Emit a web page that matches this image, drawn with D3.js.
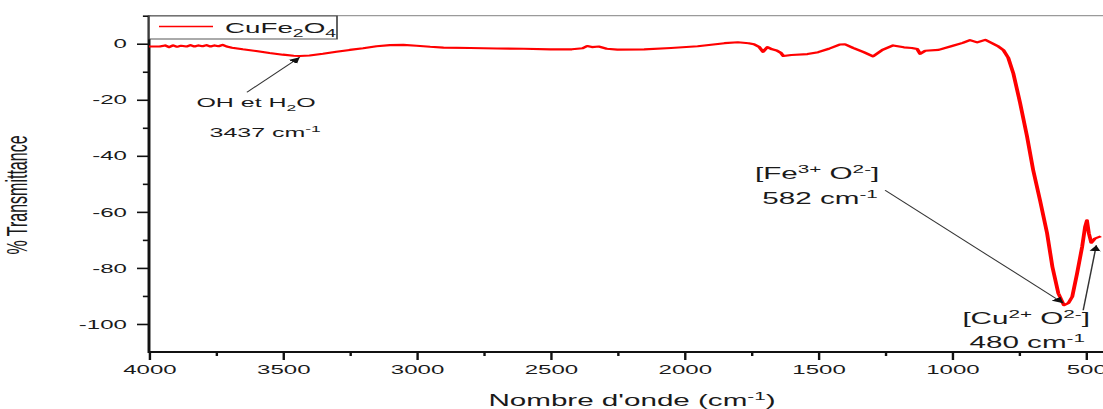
<!DOCTYPE html>
<html>
<head>
    <title>FTIR CuFe2O4</title>
    <script src="https://cdnjs.cloudflare.com/ajax/libs/d3/7.8.5/d3.min.js"></script>
    <style>
        body { margin: 0; background: white; }
        svg { display: block; }
        text { font-family: Arial, "Liberation Sans", sans-serif; fill: #1a1a1a; }
    </style>
</head>
<body>
    <svg width="1103" height="409"></svg>

    <script>
        // spectrum (wavenumber in cm-1, % transmittance)
        const wavenumber = [
            4000, 3960, 3940, 3925, 3910, 3895, 3880, 3860, 3845, 3830, 3815, 3800,
            3785, 3770, 3755, 3740, 3725, 3710, 3690, 3650, 3600, 3550, 3500, 3460,
            3437, 3400, 3350, 3300, 3250, 3200, 3150, 3100, 3050, 3000, 2950, 2900,
            2800, 2700, 2600, 2500, 2420, 2380, 2363, 2345, 2320, 2290, 2250, 2150,
            2050, 1950, 1850, 1800, 1760, 1740, 1720, 1706, 1690, 1672, 1655, 1640,
            1630, 1600, 1540, 1500, 1460, 1420, 1400, 1370, 1330, 1295, 1260, 1220,
            1180, 1150, 1130, 1119, 1100, 1050, 1000, 960, 933, 906, 876, 850,
            830, 808, 790, 771, 746, 720, 697, 671, 645, 625, 603, 582,
            565, 551, 533, 514, 503, 496, 489, 480, 466, 444
        ];
        const transmittance = [
            -1.0, -1.0, -0.6, -1.2, -0.6, -1.1, -0.7, -1.0, -0.5, -1.0, -0.6, -0.9,
            -0.5, -1.0, -0.6, -0.9, -0.4, -1.0, -1.4, -2.0, -2.6, -3.3, -3.9, -4.3,
            -4.4, -4.2, -3.6, -2.9, -2.2, -1.6, -0.9, -0.5, -0.4, -0.7, -1.1, -1.4,
            -1.5, -1.7, -1.8, -2.0, -2.0, -1.6, -0.8, -1.2, -1.0, -1.8, -2.1, -2.0,
            -1.5, -0.9, 0.2, 0.5, 0.2, -0.2, -1.2, -2.9, -1.2, -2.0, -2.4, -3.2,
            -4.4, -4.0, -3.7, -3.0, -1.8, -0.3, -0.2, -1.5, -3.0, -4.5, -2.2, -0.6,
            -1.3, -1.5, -1.9, -3.6, -2.5, -2.2, -0.8, 0.3, 1.3, 0.5, 1.4, 0.2,
            -0.8, -2.3, -5.0, -10.6, -21, -33, -45, -56, -67.6, -79.6, -89, -93.3,
            -92.5, -90.3, -82, -72.5, -65.4, -63, -67.6, -71, -69.5, -68.7
        ];
        const xMajor = [4000, 3500, 3000, 2500, 2000, 1500, 1000, 500];
        const xMinor = [3750, 3250, 2750, 2250, 1750, 1250, 750];
        const yMajor = [0, -20, -40, -60, -80, -100];
        const yMinor = [10, -10, -30, -50, -70, -90];

        // the original picture is stretched sideways, so draw in a narrow space and widen it
        const SX = 1.85;
        const svg = d3.select("svg");
        const g = svg.append("g").attr("transform", `scale(${SX},1)`);

        const x = d3.scaleLinear().domain([4000, 436]).range([149 / SX, 1103 / SX]);
        const y = d3.scaleLinear().domain([-110, 10]).range([352, 15.7]);

        const defs = svg.append("defs");
        defs.append("marker")
            .attr("id", "arr")
            .attr("viewBox", "0 0 10 10")
            .attr("refX", 10).attr("refY", 5)
            .attr("markerUnits", "userSpaceOnUse")
            .attr("markerWidth", 6).attr("markerHeight", 7)
            .attr("orient", "auto")
            .append("path").attr("d", "M0,0 L10,5 L0,10 z").attr("fill", "#111");

        // top frame
        g.append("line")
            .attr("x1", x(4000)).attr("x2", x(436))
            .attr("y1", y(10)).attr("y2", y(10))
            .attr("stroke", "#9a9a9a").attr("stroke-width", 1.3);

        // y axis
        const yAx = g.append("g").attr("transform", `translate(${x(4000)},0)`)
            .call(d3.axisLeft(y).tickValues(yMajor).tickSize(6.5).tickPadding(5.4)
                .tickSizeOuter(0).tickFormat(d => String(d)));
        yAx.append("g").call(d3.axisLeft(y).tickValues(yMinor).tickSize(3.3).tickFormat(""));
        yAx.selectAll(".domain").remove();
        yAx.selectAll(".tick line").attr("stroke", "#111").attr("stroke-width", 1.6);
        yAx.selectAll("text").attr("font-size", 13).attr("font-family", "Arial").attr("fill", "#1a1a1a");

        // x axis
        const xAx = g.append("g").attr("transform", `translate(0,${y(-110)})`)
            .call(d3.axisBottom(x).tickValues(xMajor).tickSize(8).tickPadding(5)
                .tickSizeOuter(0).tickFormat(d => String(d)));
        xAx.append("g").call(d3.axisBottom(x).tickValues(xMinor).tickSize(4).tickFormat(""));
        xAx.selectAll(".domain").remove();
        xAx.selectAll(".tick line").attr("stroke", "#111").attr("stroke-width", 1.3);
        xAx.selectAll("text").attr("font-size", 13).attr("font-family", "Arial").attr("fill", "#1a1a1a");

        g.append("line")
            .attr("x1", x(4000)).attr("x2", x(436))
            .attr("y1", y(-110)).attr("y2", y(-110))
            .attr("stroke", "#111").attr("stroke-width", 2);
        g.append("line")
            .attr("x1", x(4000)).attr("x2", x(4000))
            .attr("y1", y(10)).attr("y2", y(-110) + 1)
            .attr("stroke", "#111").attr("stroke-width", 1.6);

        // spectrum
        const pts = wavenumber.map((w, i) => [w, transmittance[i]]);
        const line = d3.line().x(d => x(d[0])).y(d => y(d[1]));
        g.append("path").datum(pts)
            .attr("d", line)
            .attr("fill", "none")
            .attr("stroke", "#ff0000")
            .attr("stroke-width", 2.1)
            .attr("stroke-linejoin", "round");

        // text with sub / superscripts: parts = [[str, "n"|"sub"|"sup"], ...]
        function rich(tx, ty, parts, size, anchor) {
            const t = g.append("text").attr("x", tx).attr("y", ty)
                .attr("font-size", size).attr("text-anchor", anchor || "middle");
            let off = 0;
            parts.forEach(([s, kind]) => {
                const target = kind === "sub" ? size * 0.3 : kind === "sup" ? -size * 0.4 : 0;
                t.append("tspan").attr("dy", target - off)
                    .attr("font-size", kind === "n" ? size : size * 0.7)
                    .text(s);
                off = target;
            });
            return t;
        }

        // legend
        g.append("rect")
            .attr("x", 149 / SX).attr("y", 16)
            .attr("width", (337 - 149) / SX).attr("height", 23)
            .attr("fill", "white").attr("stroke", "#444").attr("stroke-width", 0.9);
        g.append("line")
            .attr("x1", 159 / SX).attr("x2", 213 / SX)
            .attr("y1", 26.5).attr("y2", 26.5)
            .attr("stroke", "#ff0000").attr("stroke-width", 1.6);
        rich(225 / SX, 33, [["CuFe", "n"], ["2", "sub"], ["O", "n"], ["4", "sub"]], 15, "start");

        // axis titles
        rich(632 / SX, 406, [["Nombre d'onde (cm", "n"], ["-1", "sup"], [")", "n"]], 16);
        g.append("text")
            .attr("transform", `translate(${27 / SX},195) rotate(-90)`)
            .attr("text-anchor", "middle")
            .attr("font-size", 16)
            .text("% Transmittance");

        // band annotations
        function arrow(w0, t0, w1, t1) {
            g.append("line")
                .attr("x1", x(w0)).attr("y1", y(t0))
                .attr("x2", x(w1)).attr("y2", y(t1))
                .attr("stroke", "#333").attr("stroke-width", 0.8)
                .attr("marker-end", "url(#arr)");
        }

        arrow(3634, -17.3, 3437, -4.8);
        rich(x(3600), y(-22.6), [["OH et H", "n"], ["2", "sub"], ["O", "n"]], 13.5);
        rich(x(3566), y(-33.4), [["3437 cm", "n"], ["-1", "sup"]], 13.5);

        arrow(1250, -52.3, 584, -92.6);
        rich(x(1504), y(-48.3), [["[Fe", "n"], ["3+", "sup"], [" O", "n"], ["2-", "sup"], ["]", "n"]], 16);
        rich(x(1493), y(-57.3), [["582 cm", "n"], ["-1", "sup"]], 16);

        arrow(510, -95.1, 461, -71.9);
        rich(x(723), y(-100.1), [["[Cu", "n"], ["2+", "sup"], [" O", "n"], ["2-", "sup"], ["]", "n"]], 16);
        rich(x(719), y(-108.7), [["480 cm", "n"], ["-1", "sup"]], 16);
    </script>
</body>
</html>
